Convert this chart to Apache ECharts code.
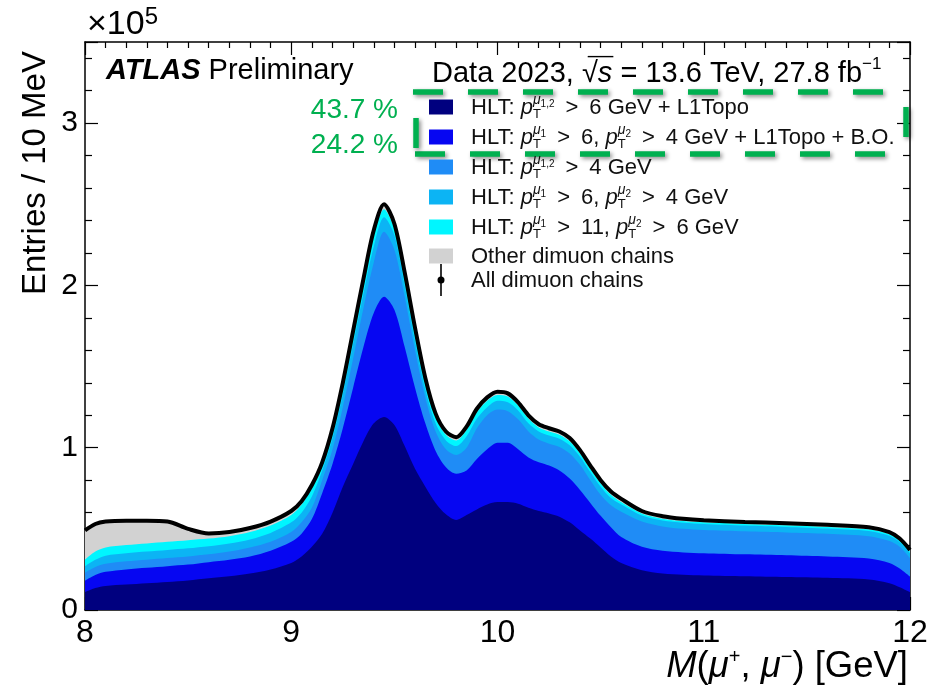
<!DOCTYPE html>
<html><head><meta charset="utf-8">
<script src="https://cdn.jsdelivr.net/npm/echarts@6/dist/echarts.min.js"></script>
<style>html,body{margin:0;padding:0;background:#fff}#c{width:933px;height:693px}</style>
</head><body><div id="c"></div>
<script>
// ---- data (units of 1e5 entries / 10 MeV), cumulative upper edges of each stacked band ----
const massGeV = [8.0,8.05,8.1,8.2,8.3,8.4,8.5,8.6,8.7,8.8,8.9,9.0,9.05,9.1,9.15,9.2,9.25,9.3,9.35,9.4,9.45,9.5,9.55,9.6,9.65,9.7,9.75,9.8,9.85,9.9,9.95,10.0,10.05,10.1,10.15,10.2,10.25,10.3,10.35,10.4,10.45,10.5,10.55,10.6,10.7,10.8,10.9,11.0,11.2,11.4,11.6,11.8,11.9,11.95,12.0];
// All dimuon chains (also top of "Other dimuon chains")
const allChains = [0.49,0.53,0.545,0.55,0.55,0.545,0.50,0.472,0.48,0.505,0.545,0.61,0.67,0.77,0.91,1.12,1.40,1.72,2.04,2.34,2.50,2.38,2.08,1.74,1.43,1.21,1.10,1.065,1.13,1.24,1.31,1.345,1.335,1.28,1.20,1.145,1.12,1.10,1.06,0.985,0.89,0.80,0.73,0.685,0.61,0.578,0.562,0.553,0.543,0.535,0.525,0.51,0.48,0.44,0.37];
// top of HLT pT(mu1)>11, pT(mu2)>6 band
const topPt11 = [0.31,0.36,0.385,0.40,0.41,0.42,0.43,0.44,0.455,0.48,0.52,0.585,0.65,0.75,0.89,1.09,1.37,1.69,2.01,2.31,2.47,2.35,2.05,1.71,1.41,1.19,1.08,1.045,1.11,1.22,1.29,1.325,1.315,1.26,1.18,1.125,1.10,1.08,1.04,0.965,0.87,0.78,0.71,0.665,0.595,0.563,0.548,0.54,0.53,0.522,0.512,0.497,0.467,0.428,0.36];
// top of HLT pT(mu1)>6, pT(mu2)>4 band
const topPt64 = [0.27,0.31,0.335,0.35,0.36,0.37,0.38,0.393,0.41,0.435,0.475,0.54,0.60,0.70,0.86,1.06,1.33,1.64,1.95,2.24,2.42,2.31,2.00,1.66,1.36,1.15,1.045,1.01,1.07,1.18,1.25,1.29,1.28,1.23,1.15,1.10,1.075,1.055,1.015,0.945,0.85,0.76,0.69,0.65,0.582,0.551,0.537,0.53,0.52,0.512,0.502,0.487,0.457,0.418,0.35];
// top of HLT pT(mu1,2)>4 band
const topPt4 = [0.23,0.265,0.285,0.30,0.31,0.32,0.33,0.343,0.36,0.385,0.42,0.48,0.54,0.63,0.80,0.99,1.25,1.55,1.86,2.14,2.33,2.22,1.93,1.60,1.31,1.10,0.99,0.955,1.00,1.12,1.20,1.235,1.225,1.175,1.10,1.05,1.025,1.005,0.965,0.895,0.80,0.71,0.645,0.605,0.545,0.515,0.50,0.493,0.485,0.478,0.47,0.455,0.425,0.39,0.32];
// top of HLT pT(mu1)>6, pT(mu2)>4 + L1Topo + B.O. band
const topBO = [0.18,0.215,0.235,0.25,0.26,0.27,0.28,0.295,0.31,0.33,0.365,0.42,0.47,0.56,0.72,0.90,1.12,1.37,1.62,1.83,1.93,1.85,1.62,1.37,1.15,0.98,0.88,0.84,0.86,0.93,0.99,1.03,1.03,0.99,0.94,0.91,0.89,0.86,0.81,0.74,0.66,0.58,0.51,0.45,0.39,0.365,0.355,0.35,0.343,0.337,0.33,0.318,0.29,0.255,0.205];
// top of HLT pT(mu1,2)>6 + L1Topo band
const topL1Topo = [0.11,0.135,0.148,0.157,0.165,0.173,0.182,0.195,0.208,0.225,0.25,0.29,0.33,0.39,0.47,0.60,0.76,0.90,1.04,1.15,1.19,1.14,1.01,0.87,0.76,0.66,0.59,0.555,0.585,0.62,0.65,0.665,0.665,0.655,0.63,0.61,0.595,0.575,0.54,0.49,0.44,0.385,0.33,0.29,0.245,0.225,0.217,0.213,0.208,0.203,0.198,0.188,0.165,0.14,0.11];
const xTickLabels = [8,9,10,11,12];
const yTickLabels = [0,1,2,3];
const legendNames = ['HLT: pT(mu1,2) > 6 GeV + L1Topo','HLT: pT(mu1) > 6, pT(mu2) > 4 GeV + L1Topo + B.O.','HLT: pT(mu1,2) > 4 GeV','HLT: pT(mu1) > 6, pT(mu2) > 4 GeV','HLT: pT(mu1) > 11, pT(mu2) > 6 GeV','Other dimuon chains','All dimuon chains'];
const fractions = ['43.7 %','24.2 %'];

const colors = {navy:'#00007f', blue:'#0606f2', dodger:'#1f8cf6', sky:'#0cb4f4', cyan:'#00f6ff', grey:'#d2d2d2'};
const FF = '"Liberation Sans", Arial, Helvetica, sans-serif';

const chart = echarts.init(document.getElementById('c'), null, {renderer:'canvas'});
const pairs = arr => massGeV.map((x,i)=>[x, arr[i]]);
function area(name, arr, color){
  return {name, type:'line', data:pairs(arr), symbol:'none', smooth:0.3, silent:true,
    lineStyle:{width:0}, areaStyle:{color, opacity:1}, z:2};
}

// ---- math text layout helper ----
const mctx = document.createElement('canvas').getContext('2d');
function fontOf(q, base){ return (q.it?'italic ':'')+(q.b?'bold ':'')+(q.sz||base)+'px '+FF; }
function tw(t, f){ mctx.font=f; return mctx.measureText(t).width; }
function layout(seq, x0, y, base, color, out){
  let x=x0;
  for(const p of seq){
    if(p.stack){
      let adv=0;
      for(const sub of p.stack){ adv=Math.max(adv, layout(sub, x, y, base, color, out)); }
      x+=adv;
    } else {
      const f=fontOf(p, base);
      const w=tw(p.t, f);
      if(out){
        out.push({type:'text', x:x, y:y+(p.dy||0), z:100, silent:true,
          style:{text:p.t, font:f, fill:color, align:'left', verticalAlign:'middle', textAlign:'left', textVerticalAlign:'middle'}});
        if(p.over){
          const s=(p.sz||base);
          out.push({type:'line', z:100, silent:true, shape:{x1:x-s*0.35, y1:y-s*0.6, x2:x+w+1, y2:y-s*0.6}, style:{stroke:color, lineWidth:1.4}});
        }
      }
      x+=w;
    }
  }
  return x-x0;
}
const E = '\u2002';
const mu = s => [{t:'μ',it:true,sz:14,dy:-8},{t:s,sz:10,dy:-4}];
const pT = s => [{t:'p',it:true},{stack:[mu(s),[{t:'T',sz:13,dy:6}]]}];
const gt = E+'>'+E;

const g = [];
// legend
const rowY = [107,137,167,197,227,256,280];
const legendColors = [colors.navy, colors.blue, colors.dodger, colors.sky, colors.cyan, colors.grey];
legendColors.forEach((c,i)=>g.push({type:'rect', z:100, silent:true, shape:{x:429,y:rowY[i]-7.5,width:24,height:15}, style:{fill:c}}));
g.push({type:'line', z:100, silent:true, shape:{x1:441,y1:264,x2:441,y2:296}, style:{stroke:'#000',lineWidth:1.6}});
g.push({type:'circle', z:100, silent:true, shape:{cx:441,cy:rowY[6],r:3.5}, style:{fill:'#000'}});
const legendSeqs = [
  [{t:'HLT: '}, ...pT('1,2'), {t:gt+'6 GeV + L1Topo'}],
  [{t:'HLT: '}, ...pT('1'), {t:gt+'6, '}, ...pT('2'), {t:gt+'4 GeV + L1Topo + B.O.'}],
  [{t:'HLT: '}, ...pT('1,2'), {t:gt+'4 GeV'}],
  [{t:'HLT: '}, ...pT('1'), {t:gt+'6, '}, ...pT('2'), {t:gt+'4 GeV'}],
  [{t:'HLT: '}, ...pT('1'), {t:gt+'11, '}, ...pT('2'), {t:gt+'6 GeV'}],
  [{t:legendNames[5]}],
  [{t:legendNames[6]}]
];
legendSeqs.forEach((s,i)=>layout(s, 471, rowY[i]+1, 22, '#111', g));

// header texts
layout([{t:'ATLAS',it:true,b:true},{t:' Preliminary'}], 106, 71, 29, '#000', g);
layout([{t:'Data 2023, '},{t:'√'},{t:'s',it:true,over:true},{t:' = 13.6 TeV, 27.8 fb'},{t:'−1',sz:17,dy:-10}], 432, 74, 29, '#000', g);
layout([{t:'×10'},{t:'5',sz:24,dy:-8}], 87, 25, 34, '#000', g);
// axis titles
const xName = [{t:'M',it:true},{t:'('},{t:'μ',it:true},{t:'+',sz:20,dy:-10},{t:', '},{t:'μ',it:true},{t:'−',sz:20,dy:-10},{t:') [GeV]'}];
const xw = layout(xName, 0, 0, 36.5, '#000', null);
layout(xName, 908-xw, 667, 36.5, '#000', g);
g.push({type:'text', x:36, y:173, rotation:Math.PI/2, z:100, silent:true,
  style:{text:'Entries / 10 MeV', font:'33px '+FF, fill:'#000', align:'center', verticalAlign:'middle', textAlign:'center', textVerticalAlign:'middle'}});
// green annotations
[110,145].forEach((y,i)=>g.push({type:'text', x:398, y:y, z:100, silent:true,
  style:{text:fractions[i], font:'28px '+FF, fill:'#00b050', align:'right', verticalAlign:'middle', textAlign:'right', textVerticalAlign:'middle'}}));
const dashStyle = {stroke:'#00b050', lineWidth:5.5, lineDash:[30,25], shadowBlur:4, shadowColor:'rgba(0,0,0,0.45)', shadowOffsetX:2, shadowOffsetY:2};
g.push({type:'line', z:99, silent:true, shape:{x1:413,y1:92,x2:890,y2:92}, style:dashStyle});
g.push({type:'line', z:99, silent:true, shape:{x1:415,y1:154,x2:890,y2:154}, style:dashStyle});
g.push({type:'line', z:99, silent:true, shape:{x1:416,y1:118,x2:416,y2:148}, style:Object.assign({}, dashStyle, {lineDash:null})});
g.push({type:'line', z:99, silent:true, shape:{x1:906,y1:107,x2:906,y2:137}, style:Object.assign({}, dashStyle, {lineDash:null})});

const axisLine = {show:true, onZero:false, lineStyle:{color:'#000', width:1.5}};
const tick = {show:true, inside:true, length:13, lineStyle:{color:'#000', width:1.2}};
const xCommon = {type:'value', min:8, max:12, interval:1, axisLine, axisTick:tick,
  minorTick:{show:true, splitNumber:10, length:6, lineStyle:{color:'#000', width:1.2}},
  splitLine:{show:false}, minorSplitLine:{show:false}};
const yCommon = {type:'value', min:0, max:3.5, interval:1, axisLine, axisTick:tick,
  minorTick:{show:true, splitNumber:5, length:7, lineStyle:{color:'#000', width:1.2}},
  splitLine:{show:false}, minorSplitLine:{show:false}};

chart.setOption({
  animation:false,
  backgroundColor:'#fff',
  grid:{left:85, right:23, top:42, bottom:83, containLabel:false, outerBoundsMode:'none'},
  xAxis:[
    Object.assign({}, xCommon, {position:'bottom', axisLabel:{margin:7, fontSize:32, color:'#000', fontFamily:FF,
      formatter:v=>xTickLabels.includes(v)?String(v):''}}),
    Object.assign({}, xCommon, {position:'top', axisLabel:{show:false}})
  ],
  yAxis:[
    Object.assign({}, yCommon, {position:'left', axisLabel:{margin:7, fontSize:30, color:'#000', fontFamily:FF,
      formatter:v=>yTickLabels.includes(v)?String(v):''}}),
    Object.assign({}, yCommon, {position:'right', axisLabel:{show:false}})
  ],
  series:[
    area('Other dimuon chains', allChains, colors.grey),
    area(legendNames[4], topPt11, colors.cyan),
    area(legendNames[3], topPt64, colors.sky),
    area(legendNames[2], topPt4, colors.dodger),
    area(legendNames[1], topBO, colors.blue),
    area(legendNames[0], topL1Topo, colors.navy),
    {name:legendNames[6], type:'line', data:pairs(allChains), symbol:'none', smooth:0.3, silent:true,
      lineStyle:{color:'#000', width:4}, z:5}
  ],
  graphic:g
});
</script></body></html>
